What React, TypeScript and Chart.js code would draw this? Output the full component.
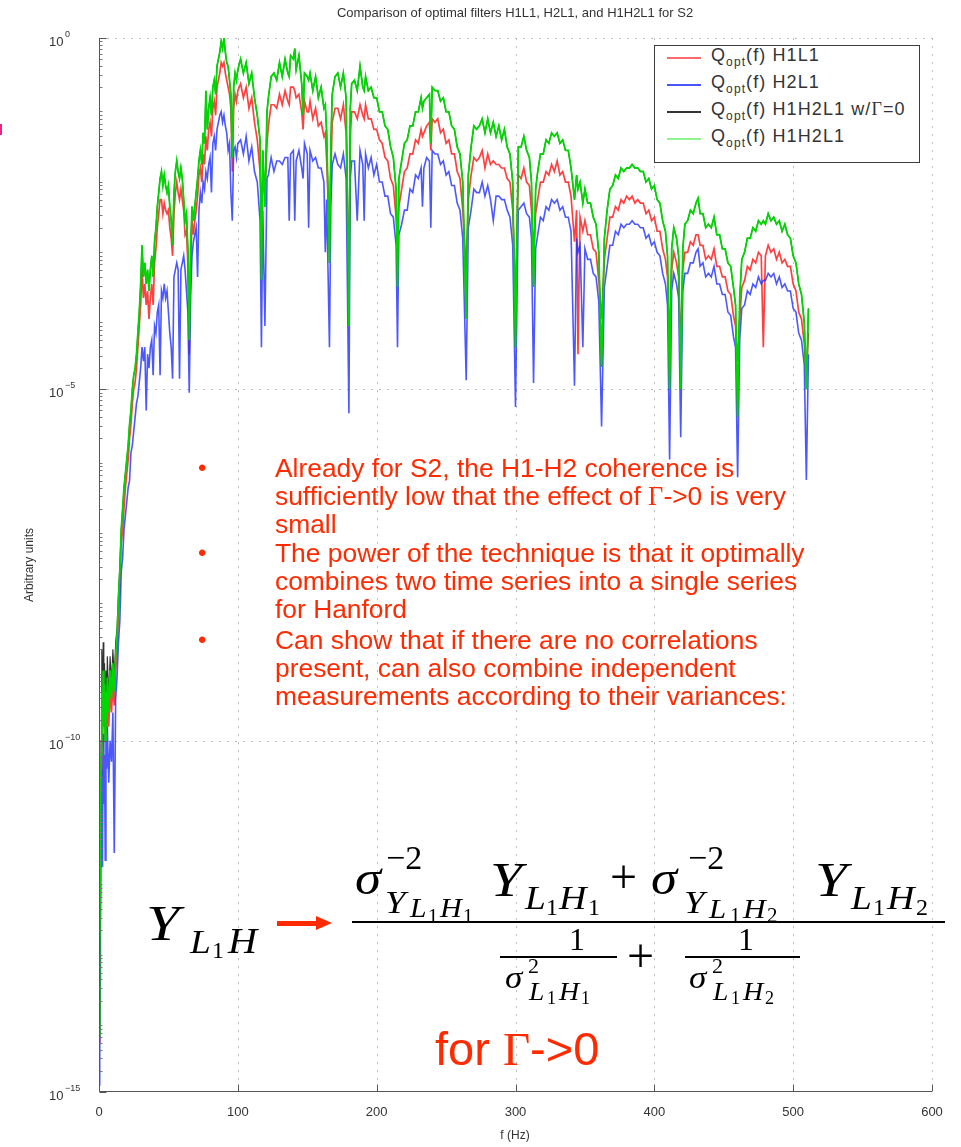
import React, { useEffect, useRef } from 'react';
import { Chart, registerables } from 'chart.js';

Chart.register(...registerables);

// Frequencies (Hz) shared by the three main series
const freqHz = [
  0.25, 0.5, 0.75, 1, 1.5, 2, 2.5, 3, 3.5, 4,
  4.5, 5, 5.5, 6, 7, 8, 9, 10, 11, 12,
  13, 14, 15, 16, 17, 18, 19, 20, 21, 22,
  23, 24, 25, 26, 27, 28, 29, 30, 31, 32,
  33, 34, 35, 36, 37, 38, 39, 40, 41, 42,
  43, 44, 45, 46, 47, 48, 49, 50, 51, 52,
  53, 54, 55, 56, 57, 58, 59, 60, 61, 62,
  63, 64, 65, 66, 67, 68, 69, 70, 71, 72,
  73, 74, 75, 76, 77, 78, 79, 80, 81, 82,
  83, 84, 85, 86, 87, 88, 89, 90, 91, 92,
  93, 94, 95, 96, 97, 98, 99, 100, 102, 104,
  106, 108, 110, 112, 114, 116, 117, 118, 119.5, 121,
  122, 124, 126, 128, 130, 132, 134, 136, 137, 138,
  140, 141, 142, 144, 146, 147, 148, 150, 151, 152,
  154, 156, 158, 160, 162, 163, 164, 166, 167, 168,
  170, 172, 174, 176, 178, 180, 181, 182, 184, 186,
  188, 190, 191, 192, 194, 196, 198, 200, 202, 204,
  206, 208, 210, 212, 214, 215, 216, 218, 220, 222,
  224, 226, 228, 230, 232, 233, 234, 236, 238, 239,
  240, 242, 244, 246, 248, 250, 252, 254, 256, 258,
  260, 262, 264.5, 266, 268, 270, 272, 274, 276, 278,
  280, 282, 284, 286, 288, 290, 292, 294, 296, 298,
  300, 302, 304, 306, 308, 310, 311.5, 313, 314.5, 316,
  318, 320, 322, 324, 326, 328, 330, 332, 334, 336,
  338, 340, 342.5, 344, 345, 346.5, 348.5, 350, 352, 354,
  356, 358, 360, 362, 364, 366, 368, 370, 372, 374,
  376, 378, 380, 382, 384, 386, 388, 390, 392, 394,
  396, 398, 400, 402, 404, 406, 408, 409.5, 411, 412.5,
  414, 416, 417.5, 419, 420.5, 422, 424, 426, 428, 430,
  431.5, 433, 435, 437, 439, 441, 443, 445, 447, 449,
  451, 453, 455, 457, 458.5, 460, 461.5, 463, 465, 467,
  469, 471, 473, 475, 477, 478.5, 480, 482, 484, 486,
  488, 490, 492, 494, 496, 498, 500, 502, 504, 506,
  508, 509.5, 511,
];

// Q_opt(f) H1H2L1  (green) — log10 of the value
const h1h2l1Log = [
  -14.2, -13.0, -12.2, -11.4, -10.2, -9.3, -9.9, -9.0, -9.6, -9.2,
  -10.0, -9.3, -9.7, -9.1, -9.6, -9.0, -9.4, -8.9, -9.3, -8.8,
  -8.5, -8.0, -7.6, -7.0, -6.7, -6.4, -6.2, -6.0, -5.8, -5.5,
  -5.3, -5.0, -4.8, -4.7, -4.5, -4.2, -3.9, -3.5, -2.95, -3.4,
  -3.2, -3.5, -3.3, -3.6, -3.3, -3.1, -3.4, -2.9, -2.7, -2.4,
  -2.2, -2.0, -1.9, -2.1, -1.95, -2.1, -2.2, -2.1, -2.4, -2.6,
  -2.95, -2.2, -1.9, -1.75, -1.9, -2.0, -1.85, -2.0, -2.3, -2.6,
  -2.5, -3.0, -4.3, -3.0, -2.4, -2.6, -2.4, -2.2, -2.0, -1.75,
  -1.6, -1.8, -1.35, -1.5, -0.75, -1.3, -1.0, -0.85, -1.1, -0.7,
  -0.6, -0.8, -0.4, -0.3, -0.2, -0.05, -0.15, 0.0, -0.2, -0.35,
  -0.4, -0.6, -0.8, -1.7, -0.7, -0.5, -0.6, -0.45, -0.3, -0.5,
  -0.35, -0.65, -0.5, -0.85, -1.1, -1.45, -3.44, -1.6, -2.4, -1.05,
  -0.85, -0.55, -0.5, -0.6, -0.35, -0.55, -0.3, -0.5, -0.55, -0.25,
  -0.3, -0.15, -0.45, -0.25, -0.65, -1.1, -0.5, -0.55, -0.6, -0.5,
  -0.75, -0.55, -0.85, -0.7, -1.0, -0.95, -1.35, -3.2, -1.5, -0.8,
  -0.55, -0.5, -0.7, -0.5, -0.85, -4.1, -1.0, -0.65, -0.6, -0.75,
  -0.4, -0.7, -0.75, -0.55, -0.75, -0.7, -0.85, -0.85, -1.05, -1.05,
  -1.25, -1.3, -1.55, -1.7, -2.15, -3.54, -2.0, -1.75, -1.5, -1.45,
  -1.25, -1.25, -1.05, -1.05, -0.85, -1.0, -0.9, -0.85, -0.8, -1.5,
  -0.7, -0.75, -0.75, -0.9, -0.85, -1.05, -1.05, -1.25, -1.3, -1.55,
  -1.65, -2.05, -4.0, -1.95, -1.55, -1.25, -1.3, -1.25, -1.15, -1.35,
  -1.15, -1.35, -1.2, -1.4, -1.25, -1.45, -1.3, -1.55, -1.65, -2.05,
  -4.4, -1.55, -1.55, -1.4, -1.6, -1.7, -2.05, -3.54, -2.15, -1.9,
  -1.65, -1.65, -1.45, -1.5, -1.35, -1.4, -1.35, -1.5, -1.45, -1.6,
  -1.6, -1.85, -2.3, -1.95, -2.15, -2.05, -2.35, -2.15, -2.35, -2.35,
  -2.55, -2.65, -3.05, -4.68, -2.85, -2.45, -2.15, -2.1, -1.95, -2.0,
  -1.85, -1.9, -1.85, -1.85, -1.8, -1.85, -1.85, -1.9, -1.9, -2.05,
  -2.0, -2.15, -2.1, -2.3, -2.35, -2.6, -2.75, -3.1, -5.0, -3.0,
  -2.7, -2.85, -3.1, -5.0, -3.0, -2.65, -2.6, -2.45, -2.5, -2.35,
  -2.28, -2.5, -2.5, -2.7, -2.65, -2.7, -2.55, -2.8, -2.8, -3.0,
  -3.0, -3.2, -3.25, -3.55, -3.8, -5.39, -3.7, -3.15, -3.05, -2.85,
  -2.85, -2.7, -2.75, -2.6, -2.65, -2.6, -2.65, -2.5, -2.6, -2.55,
  -2.65, -2.6, -2.75, -2.65, -2.8, -2.85, -3.1, -3.2, -3.5, -3.65,
  -4.05, -5.0, -3.85,
];

// Q_opt(f) H1L1 (red)
const h1l1Log = [
  -14.3, -13.3, -12.5, -11.6, -10.5, -9.6, -10.1, -9.4, -9.8, -9.5,
  -10.0, -9.6, -9.9, -9.4, -9.8, -9.3, -9.6, -9.2, -9.5, -9.0,
  -8.7, -8.2, -7.8, -7.2, -7.0, -6.7, -6.4, -6.2, -6.0, -5.7,
  -5.5, -5.2, -5.0, -4.9, -4.7, -4.4, -4.1, -3.8, -3.3, -3.7,
  -3.5, -3.8, -3.6, -4.0, -3.7, -3.5, -3.8, -3.2, -3.0, -2.7,
  -2.5, -2.3, -2.3, -2.5, -2.35, -2.45, -2.5, -2.45, -2.7, -2.85,
  -3.1, -2.5, -2.2, -2.05, -2.2, -2.3, -2.15, -2.3, -2.45, -2.8,
  -2.75, -3.2, -4.5, -3.2, -2.6, -2.8, -2.6, -2.45, -2.25, -1.95,
  -1.85, -2.05, -1.65, -1.8, -1.4, -1.6, -1.3, -1.2, -1.4, -1.0,
  -0.9, -1.1, -0.7, -0.6, -0.5, -0.35, -0.4, -0.35, -0.5, -0.6,
  -0.7, -0.8, -1.0, -1.9, -1.0, -0.8, -0.9, -0.75, -0.65, -0.85,
  -0.7, -1.0, -0.85, -1.2, -1.45, -1.9, -2.35, -2.05, -2.2, -1.5,
  -1.25, -0.95, -0.95, -1.0, -0.8, -0.95, -0.75, -0.9, -0.95, -0.7,
  -0.7, -0.75, -0.85, -0.8, -1.05, -1.3, -0.9, -1.05, -1.05, -0.9,
  -1.15, -1.0, -1.25, -1.2, -1.4, -1.35, -1.75, -2.8, -1.9, -1.2,
  -1.0, -1.0, -1.15, -0.95, -1.35, -3.5, -1.4, -1.05, -1.05, -1.15,
  -0.95, -1.1, -1.15, -0.95, -1.15, -1.15, -1.3, -1.3, -1.45, -1.5,
  -1.7, -1.75, -2.0, -2.1, -2.55, -2.9, -2.4, -2.15, -1.9, -1.85,
  -1.65, -1.65, -1.45, -1.5, -1.3, -1.4, -1.35, -1.25, -1.2, -1.6,
  -1.15, -1.2, -1.15, -1.35, -1.3, -1.5, -1.45, -1.65, -1.65, -1.9,
  -2.0, -2.45, -3.3, -2.3, -1.95, -1.7, -1.75, -1.7, -1.6, -1.85,
  -1.65, -1.8, -1.75, -1.8, -1.8, -1.85, -1.85, -2.0, -2.05, -2.45,
  -3.7, -1.95, -2.0, -1.85, -2.05, -2.1, -2.45, -3.0, -2.5, -2.3,
  -2.05, -2.05, -1.9, -1.95, -1.8, -1.9, -1.75, -1.95, -1.9, -2.05,
  -2.05, -2.25, -2.9, -2.45, -4.5, -2.55, -2.75, -2.6, -2.8, -2.8,
  -3.0, -3.05, -3.45, -4.0, -3.15, -2.85, -2.55, -2.55, -2.4, -2.45,
  -2.3, -2.35, -2.25, -2.3, -2.25, -2.35, -2.3, -2.35, -2.35, -2.5,
  -2.45, -2.6, -2.55, -2.75, -2.75, -3.0, -3.15, -3.4, -4.3, -3.3,
  -3.05, -3.2, -3.4, -4.4, -3.3, -3.05, -3.05, -2.9, -2.95, -2.8,
  -2.8, -2.95, -2.95, -3.15, -3.1, -3.15, -3.0, -3.25, -3.25, -3.4,
  -3.4, -3.6, -3.65, -3.95, -4.1, -4.6, -4.0, -3.55, -3.45, -3.25,
  -3.3, -3.15, -3.2, -3.05, -3.1, -4.4, -3.1, -2.95, -3.05, -3.0,
  -3.15, -3.05, -3.2, -3.15, -3.25, -3.25, -3.5, -3.6, -3.9, -4.0,
  -4.35, -4.8, -4.2,
];

// Q_opt(f) H2L1 (blue)
const h2l1Log = [
  -14.9, -14.6, -13.4, -12.6, -11.3, -10.4, -11.8, -9.9, -10.9, -10.2,
  -11.7, -10.0, -10.4, -9.8, -10.6, -10.0, -10.3, -9.6, -11.6, -9.4,
  -9.1, -8.6, -8.3, -7.6, -7.4, -7.0, -6.8, -6.6, -6.4, -6.3,
  -5.9, -5.8, -5.6, -5.4, -5.2, -5.1, -4.9, -4.7, -4.4, -4.6,
  -4.4, -5.3, -4.5, -4.7, -4.4, -4.3, -4.8, -4.1, -4.2, -3.9,
  -3.8, -4.8, -3.6, -3.7, -3.5, -3.7, -3.6, -3.9, -4.2, -4.4,
  -4.85, -3.4, -3.3, -3.2, -3.3, -4.85, -3.3, -3.2, -3.1, -3.3,
  -3.6, -3.9, -5.05, -3.7, -3.1, -2.9, -2.8, -2.7, -3.4, -2.45,
  -2.2, -2.35, -2.05, -2.15, -1.9, -2.0, -1.8, -1.7, -2.2, -1.5,
  -1.4, -1.6, -1.3, -1.2, -1.1, -1.05, -1.2, -1.1, -1.25, -1.35,
  -1.6, -1.5, -2.2, -2.6, -1.6, -1.55, -1.7, -1.5, -1.45, -1.65,
  -1.4, -1.75, -1.55, -1.9, -2.05, -2.6, -4.4, -2.45, -4.1, -2.0,
  -1.95, -1.7, -1.9, -1.75, -1.75, -1.8, -1.7, -1.7, -2.6, -1.65,
  -1.6, -2.6, -1.75, -1.6, -1.85, -2.0, -1.5, -1.65, -2.7, -1.6,
  -1.75, -1.7, -1.85, -1.85, -2.05, -3.05, -2.3, -4.4, -2.4, -1.8,
  -1.65, -1.8, -1.85, -1.65, -2.0, -5.34, -2.0, -1.75, -1.75, -2.6,
  -1.6, -1.8, -2.6, -1.65, -1.85, -1.7, -1.95, -1.8, -2.05, -2.05,
  -2.25, -2.25, -2.5, -2.55, -2.95, -4.4, -2.8, -2.65, -2.45, -2.45,
  -2.15, -2.2, -1.95, -2.0, -1.85, -2.4, -1.85, -1.7, -1.75, -2.7,
  -1.6, -1.65, -1.65, -1.8, -1.75, -1.95, -1.9, -2.1, -2.1, -2.35,
  -2.45, -2.85, -4.87, -2.7, -2.45, -2.15, -2.2, -2.2, -2.05, -2.25,
  -2.1, -2.3, -2.6, -2.25, -2.25, -2.3, -2.3, -2.45, -2.55, -2.95,
  -5.25, -2.45, -2.4, -2.35, -2.5, -2.55, -2.85, -4.91, -3.0, -2.8,
  -2.55, -2.6, -2.4, -2.45, -2.3, -2.35, -2.3, -2.45, -2.4, -2.55,
  -2.55, -2.75, -4.95, -2.85, -3.05, -2.95, -4.4, -3.0, -3.15, -3.15,
  -3.35, -3.4, -3.75, -5.53, -3.55, -3.25, -2.95, -2.95, -2.75, -2.8,
  -2.65, -2.7, -2.65, -2.65, -2.6, -2.65, -2.65, -2.7, -2.7, -2.85,
  -2.8, -2.95, -2.9, -3.05, -3.1, -3.35, -3.5, -3.8, -6.0, -3.6,
  -3.35, -3.5, -3.7, -5.68, -3.6, -3.35, -3.35, -3.2, -3.2, -3.05,
  -3.0, -3.25, -3.2, -3.4, -3.35, -3.4, -3.25, -3.5, -3.5, -3.65,
  -3.65, -3.9, -3.95, -4.25, -4.4, -6.25, -4.3, -3.85, -3.8, -3.6,
  -3.65, -3.5, -3.55, -3.4, -3.5, -3.45, -3.45, -3.35, -3.4, -3.35,
  -3.5, -3.4, -3.55, -3.5, -3.6, -3.6, -3.85, -3.9, -4.2, -4.3,
  -4.65, -6.29, -4.5,
];

// Q_opt(f) H1H2L1 w/Γ=0 (black): differs from green only at the lowest frequencies
const g0LowFreqHz = [0.25, 0.5, 0.75, 1, 1.5, 2, 2.5, 3, 3.5, 4, 4.5, 5, 5.5, 6, 7, 8, 9, 10, 11, 12, 13, 14, 15, 16];
const g0LowLog = [-14.0, -12.7, -12.0, -11.2, -10.0, -8.7, -9.6, -8.6, -9.3, -8.9, -9.8, -9.0, -9.5, -8.8, -9.4, -8.8, -9.2, -8.7, -9.1, -8.6, -8.4, -7.9, -7.5, -7.0];

const xTicks = [0, 100, 200, 300, 400, 500, 600];
const yTickExps = [0, -5, -10, -15];

const TITLE = 'Comparison of optimal filters H1L1, H2L1, and H1H2L1 for S2';
const X_LABEL = 'f (Hz)';
const Y_LABEL = 'Arbitrary units';

const SANS = "'Liberation Sans', Arial, Helvetica, sans-serif";
const SERIF = "'Liberation Serif', 'Times New Roman', serif";
const RED_TEXT = '#ff2a00';

const framePlugin = {
  id: 'frame',
  beforeDatasetsDraw(chart: any) {
    const { ctx, chartArea: a, scales } = chart;
    const x = scales.x;
    const y = scales.y;
    ctx.save();
    ctx.strokeStyle = '#bdbdbd';
    ctx.lineWidth = 1;
    ctx.setLineDash([2, 6]);
    for (const t of xTicks) {
      if (t === 0) continue;
      const px = Math.round(x.getPixelForValue(t)) + 0.5;
      ctx.beginPath();
      ctx.moveTo(px, a.top);
      ctx.lineTo(px, a.bottom);
      ctx.stroke();
    }
    for (const e of yTickExps) {
      if (e === -15) continue;
      const py = Math.round(y.getPixelForValue(e)) + 0.5;
      ctx.beginPath();
      ctx.moveTo(a.left, py);
      ctx.lineTo(a.right, py);
      ctx.stroke();
    }
    ctx.restore();
  },
  afterDatasetsDraw(chart: any) {
    const { ctx, chartArea: a, scales } = chart;
    const x = scales.x;
    const y = scales.y;
    ctx.save();
    ctx.setLineDash([]);
    ctx.strokeStyle = '#555';
    ctx.lineWidth = 1;
    const L = Math.round(a.left) + 0.5;
    const B = Math.round(a.bottom) - 0.5;
    ctx.beginPath();
    ctx.moveTo(L, a.top);
    ctx.lineTo(L, B);
    ctx.lineTo(a.right, B);
    ctx.stroke();
    ctx.beginPath();
    for (const t of xTicks) {
      const px = Math.round(x.getPixelForValue(t)) + 0.5;
      ctx.moveTo(px, B);
      ctx.lineTo(px, B - 7);
    }
    for (const e of yTickExps) {
      const py = Math.round(y.getPixelForValue(e)) + 0.5;
      ctx.moveTo(L, py);
      ctx.lineTo(L + 7, py);
    }
    ctx.stroke();
    ctx.strokeStyle = '#777';
    ctx.beginPath();
    for (let d = -15; d < 0; d++) {
      for (let k = 2; k <= 9; k++) {
        const py = Math.round(y.getPixelForValue(d + Math.log10(k))) + 0.5;
        ctx.moveTo(L, py);
        ctx.lineTo(L + 3, py);
      }
    }
    ctx.stroke();
    ctx.fillStyle = '#333';
    ctx.textAlign = 'left';
    ctx.textBaseline = 'alphabetic';
    for (const e of yTickExps) {
      const py = y.getPixelForValue(e);
      ctx.font = `13px ${SANS}`;
      ctx.fillText('10', 49, py + 8);
      const w = ctx.measureText('10').width;
      ctx.font = `9px ${SANS}`;
      ctx.fillText(String(e).replace('-', '\u2212'), 49 + w + 1.5, py - 1);
    }
    ctx.font = `13px ${SANS}`;
    ctx.textAlign = 'center';
    ctx.fillText(TITLE, 515, 17);
    ctx.font = `12px ${SANS}`;
    ctx.fillText(X_LABEL, 515, 1139);
    ctx.translate(30, 565);
    ctx.rotate(-Math.PI / 2);
    ctx.textBaseline = 'middle';
    ctx.fillText(Y_LABEL, 0, 0);
    ctx.restore();
  },
};

type GProps = { x: number; b: number; s: number; it?: boolean; ch: string; sx?: number };
const G = ({ x, b, s, it = true, ch, sx = 1 }: GProps) => (
  <span
    style={{
      position: 'absolute',
      left: x,
      top: b - 0.8375 * s,
      fontSize: s,
      lineHeight: '1',
      fontFamily: SERIF,
      fontStyle: it ? 'italic' : 'normal',
      color: '#000',
      whiteSpace: 'pre',
      transform: sx !== 1 ? `scaleX(${sx})` : undefined,
      transformOrigin: 'left center',
    }}
  >
    {ch}
  </span>
);

const Bar = ({ x, y, w, h = 2, color = '#000' }: { x: number; y: number; w: number; h?: number; color?: string }) => (
  <div style={{ position: 'absolute', left: x, top: y, width: w, height: h, background: color }} />
);

// L_1 H_d subscript group with explicit glyph x positions [L, 1, H, d]
const SubLH = ({ xs, b, s, ds, d2 }: { xs: number[]; b: number; s: number; ds: number; d2: string }) => (
  <>
    <G x={xs[0]} b={b} s={s} ch="L" sx={1.1} />
    <G x={xs[1]} b={b + s * 0.17} s={ds} it={false} ch="1" />
    <G x={xs[2]} b={b} s={s} ch="H" sx={1.12} />
    <G x={xs[3]} b={b + s * 0.17} s={ds} it={false} ch={d2} />
  </>
);

const Formula = () => (
  <>
    {/* left side */}
    <G x={146} b={940} s={50} ch="Y" sx={1.2} />
    <G x={190} b={953} s={34} ch="L" sx={1.1} />
    <G x={212} b={958} s={24} it={false} ch="1" />
    <G x={228} b={953} s={35} ch="H" sx={1.15} />
    {/* arrow */}
    <Bar x={277} y={921} w={42} h={5} color={RED_TEXT} />
    <div
      style={{
        position: 'absolute',
        left: 316,
        top: 916,
        width: 0,
        height: 0,
        borderTop: '7.5px solid transparent',
        borderBottom: '7.5px solid transparent',
        borderLeft: `16px solid ${RED_TEXT}`,
      }}
    />
    {/* numerator */}
    <G x={355} b={894} s={48} ch="σ" sx={1.1} />
    <G x={386} b={869} s={34} it={false} ch="−2" />
    <G x={385} b={913} s={32} ch="Y" sx={1.15} />
    <SubLH xs={[410, 428, 440, 463]} b={918} s={27} ds={20} d2="1" />
    <G x={490} b={896} s={48} ch="Y" sx={1.2} />
    <SubLH xs={[525, 546, 559, 588]} b={909} s={34} ds={24} d2="1" />
    <G x={610} b={893} s={48} it={false} ch="+" />
    <G x={651} b={894} s={48} ch="σ" sx={1.1} />
    <G x={688} b={869} s={34} it={false} ch="−2" />
    <G x={684} b={913} s={32} ch="Y" sx={1.15} />
    <SubLH xs={[709, 730, 743, 767]} b={918} s={28} ds={21} d2="2" />
    <G x={815} b={896} s={48} ch="Y" sx={1.2} />
    <SubLH xs={[851, 873, 887, 916]} b={909} s={34} ds={24} d2="2" />
    <Bar x={352} y={921} w={593} h={2} />
    {/* denominator */}
    <G x={569} b={950} s={32} it={false} ch="1" />
    <Bar x={500} y={956} w={117} h={2} />
    <G x={505} b={988} s={32} ch="σ" sx={1.1} />
    <G x={528} b={973} s={22} it={false} ch="2" />
    <SubLH xs={[529, 547, 559, 581]} b={1000} s={25} ds={18} d2="1" />
    <G x={627} b={972} s={48} it={false} ch="+" />
    <G x={738} b={950} s={32} it={false} ch="1" />
    <Bar x={685} y={956} w={115} h={2} />
    <G x={689} b={988} s={32} ch="σ" sx={1.1} />
    <G x={712} b={973} s={22} it={false} ch="2" />
    <SubLH xs={[713, 731, 743, 765]} b={1000} s={25} ds={18} d2="2" />
  </>
);

const legendItems = [
  { color: '#ff6b6b', label: 'H1L1' },
  { color: '#4a55ff', label: 'H2L1' },
  { color: '#333333', label: 'H1H2L1 w/', gamma: true },
  { color: '#8cf58c', label: 'H1H2L1' },
];

const Legend = () => (
  <div
    style={{
      position: 'absolute',
      left: 654,
      top: 45,
      width: 266,
      height: 118,
      border: '1.5px solid #3c3c3c',
      boxSizing: 'border-box',
      background: '#fff',
    }}
  >
    {legendItems.map((it, i) => {
      const cy = 11 + i * 27;
      return (
        <React.Fragment key={i}>
          <div style={{ position: 'absolute', left: 12, top: cy, width: 34, height: 2, background: it.color }} />
          <div
            style={{
              position: 'absolute',
              left: 56,
              top: cy - 12,
              fontFamily: SANS,
              fontSize: 18,
              lineHeight: '20px',
              color: '#333',
              whiteSpace: 'pre',
              letterSpacing: '1.1px',
            }}
          >
            Q<span style={{ fontSize: 12, position: 'relative', top: 5 }}>opt</span>(f) {it.label}
            {it.gamma ? (
              <>
                <span style={{ fontFamily: SERIF }}>Γ</span>=0
              </>
            ) : null}
          </div>
        </React.Fragment>
      );
    })}
  </div>
);

const bulletStyle: React.CSSProperties = {
  position: 'absolute',
  left: 275,
  fontFamily: SANS,
  fontSize: 26.4,
  lineHeight: '28px',
  color: RED_TEXT,
  whiteSpace: 'pre',
};
const dotStyle: React.CSSProperties = {
  position: 'absolute',
  left: 198,
  fontFamily: SANS,
  fontSize: 24,
  lineHeight: '28px',
  color: RED_TEXT,
};

const Bullets = () => (
  <>
    <div style={{ ...dotStyle, top: 454 }}>•</div>
    <div style={{ ...bulletStyle, top: 454 }}>
      Already for S2, the H1-H2 coherence is
      <br />
      sufficiently low that the effect of <span style={{ fontFamily: SERIF }}>Γ</span>-&gt;0 is very
      <br />
      small
    </div>
    <div style={{ ...dotStyle, top: 539 }}>•</div>
    <div style={{ ...bulletStyle, top: 539 }}>
      The power of the technique is that it optimally
      <br />
      combines two time series into a single series
      <br />
      for Hanford
    </div>
    <div style={{ ...dotStyle, top: 626 }}>•</div>
    <div style={{ ...bulletStyle, top: 626 }}>
      Can show that if there are no correlations
      <br />
      present, can also combine independent
      <br />
      measurements according to their variances:
    </div>
    <div
      style={{
        position: 'absolute',
        left: 435,
        top: 1065 - 0.8465 * 47,
        fontFamily: SANS,
        fontSize: 47,
        lineHeight: '1',
        color: RED_TEXT,
        whiteSpace: 'pre',
      }}
    >
      for <span style={{ fontFamily: SERIF }}>Γ</span>-&gt;0
    </div>
  </>
);

export default function App() {
  const canvasRef = useRef<HTMLCanvasElement | null>(null);

  useEffect(() => {
    if (!canvasRef.current) return;
    const pts = (arr: number[]) => freqHz.map((f, i) => ({ x: f, y: arr[i] }));
    const blackPts = [
      ...g0LowFreqHz.map((f, i) => ({ x: f, y: g0LowLog[i] })),
      ...freqHz.map((f, i) => ({ x: f, y: h1h2l1Log[i] })).filter((p) => p.x > 16),
    ];
    const chart = new Chart(canvasRef.current, {
      type: 'line',
      data: {
        datasets: [
          { label: 'H1L1', data: pts(h1l1Log), borderColor: 'rgba(255,30,30,0.85)', borderWidth: 1.7, order: 3 },
          { label: 'H2L1', data: pts(h2l1Log), borderColor: 'rgba(30,45,255,0.8)', borderWidth: 1.6, order: 2 },
          { label: 'H1H2L1 w/Γ=0', data: blackPts, borderColor: '#333', borderWidth: 1.1, order: 1 },
          { label: 'H1H2L1', data: pts(h1h2l1Log), borderColor: 'rgb(0,215,0)', borderWidth: 1.8, order: 0 },
        ],
      },
      options: {
        responsive: false,
        animation: false,
        layout: { padding: { top: 38, right: 29, left: 0, bottom: 0 } },
        plugins: { legend: { display: false }, tooltip: { enabled: false }, title: { display: false } },
        elements: { point: { radius: 0 }, line: { tension: 0 } },
        scales: {
          x: {
            type: 'linear',
            min: 0,
            max: 600,
            afterFit: (s: any) => {
              s.height = 55;
            },
            afterBuildTicks: (s: any) => {
              s.ticks = xTicks.map((v) => ({ value: v }));
            },
            grid: { display: false, drawTicks: false },
            border: { display: false },
            ticks: {
              padding: 13,
              color: '#333',
              maxRotation: 0,
              autoSkip: false,
              font: { family: SANS, size: 13 },
            },
          },
          y: {
            type: 'linear',
            min: -15,
            max: 0,
            afterFit: (s: any) => {
              s.width = 99;
            },
            grid: { display: false, drawTicks: false },
            border: { display: false },
            ticks: { stepSize: 5, callback: () => '' },
          },
        },
      },
      plugins: [framePlugin],
    } as any);
    return () => chart.destroy();
  }, []);

  return (
    <div
      style={{
        position: 'absolute',
        left: 0,
        top: 0,
        width: 961,
        height: 1147,
        background: '#fff',
        overflow: 'hidden',
      }}
    >
      <canvas ref={canvasRef} width={961} height={1147} style={{ display: 'block' }} />
      <div style={{ position: 'absolute', left: 0, top: 0, width: 961, height: 1147, pointerEvents: 'none' }}>
        <div style={{ position: 'absolute', left: 0, top: 124, width: 2, height: 11, background: '#f0208c' }} />
        <Legend />
        <Bullets />
        <Formula />
      </div>
    </div>
  );
}
